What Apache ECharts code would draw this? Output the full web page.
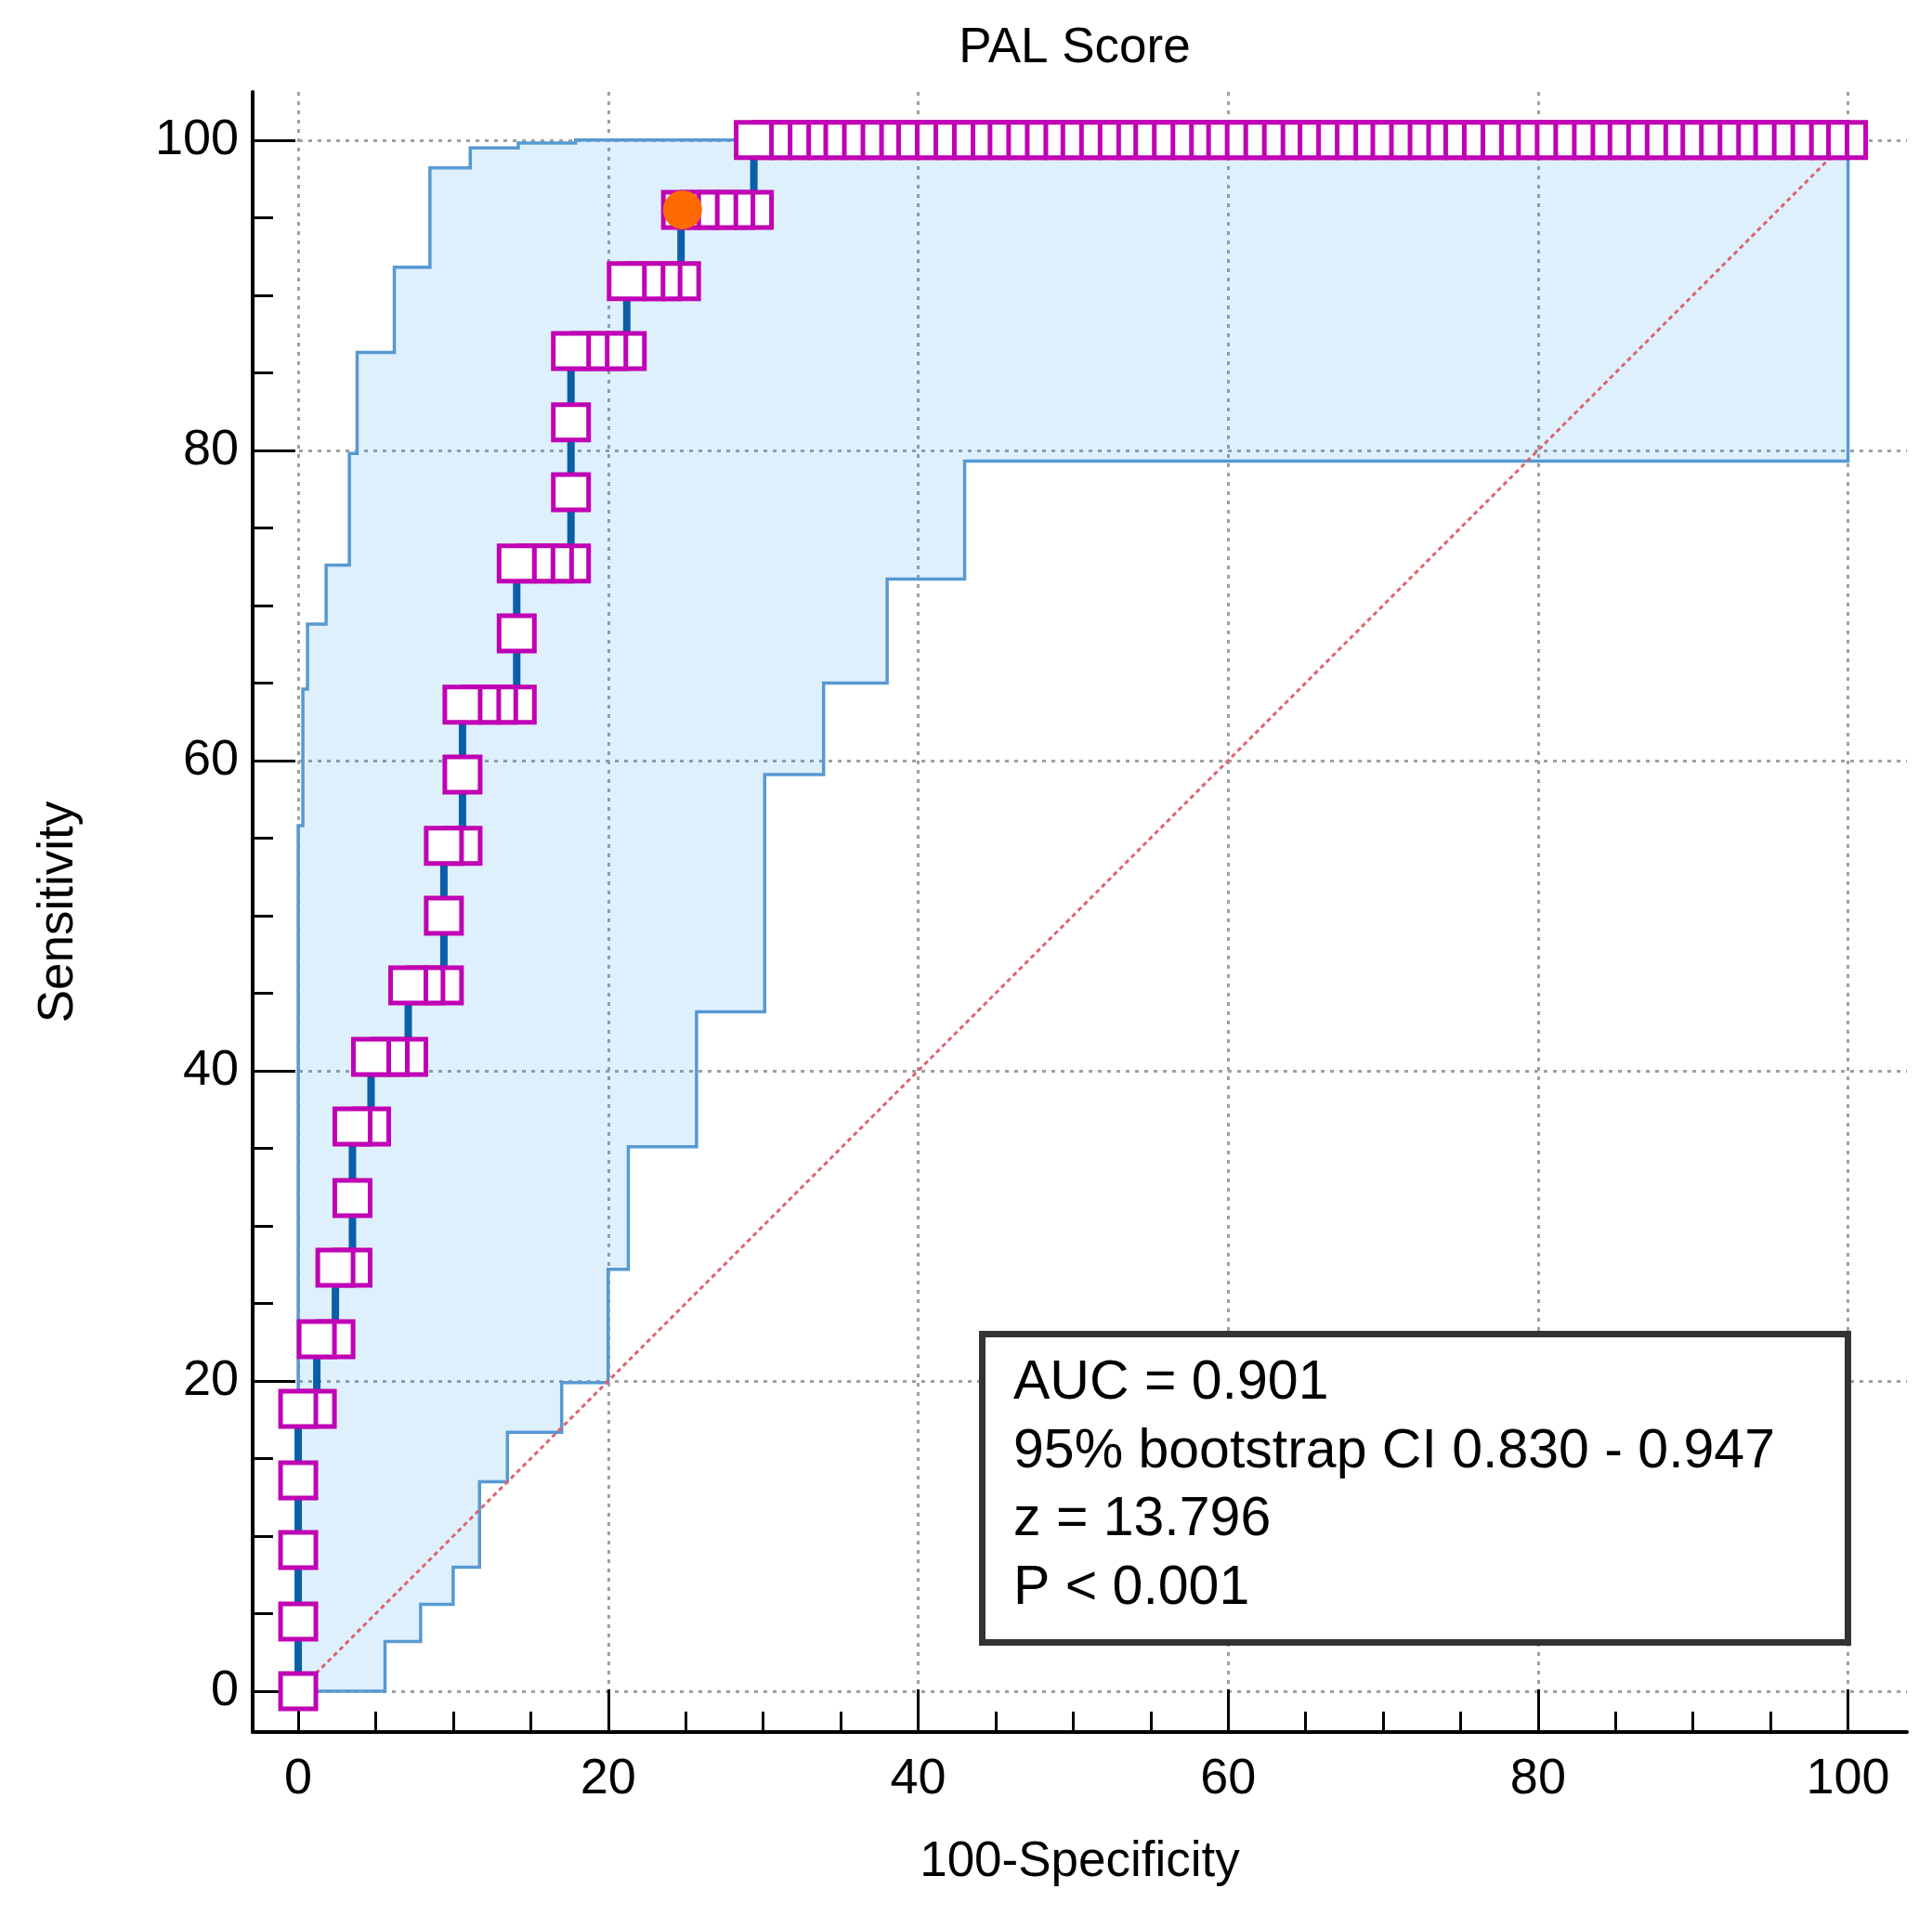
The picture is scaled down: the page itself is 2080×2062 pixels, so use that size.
<!DOCTYPE html>
<html>
<head>
<meta charset="utf-8">
<title>PAL Score - ROC curve</title>
<script src="https://cdn.jsdelivr.net/npm/echarts@6/dist/echarts.min.js"></script>
<style>
  html, body { margin: 0; padding: 0; background: #fff; }
  #chart { width: 2080px; height: 2062px; }
</style>
</head>
<body>
<div id="chart"></div>
<script>
// ROC curve: each sensitivity level with the 100-specificity values found at that level
const sensitivity = [0, 4.5, 9.1, 13.6, 18.2, 22.7, 27.3, 31.8, 36.4, 40.9, 45.5, 50.0,
  54.5, 59.1, 63.6, 68.2, 72.7, 77.3, 81.8, 86.4, 90.9, 95.5, 100];
const fprAtLevel = [
  [0], [0], [0], [0], [0, 1.2], [1.2, 2.4], [2.4, 3.5], [3.5], [3.5, 4.7],
  [4.7, 5.9, 7.1], [7.1, 8.2, 9.4], [9.4], [9.4, 10.6], [10.6],
  [10.6, 11.8, 12.9, 14.1], [14.1], [14.1, 15.3, 16.5, 17.6], [17.6], [17.6],
  [17.6, 18.8, 20.0, 21.2], [21.2, 22.4, 23.5, 24.7], [24.7, 25.9, 27.1, 28.2, 29.4],
  [29.4, 30.6, 31.8, 32.9, 34.1, 35.3, 36.5, 37.6, 38.8, 40.0, 41.2, 42.4, 43.5, 44.7,
   45.9, 47.1, 48.2, 49.4, 50.6, 51.8, 52.9, 54.1, 55.3, 56.5, 57.6, 58.8, 60.0, 61.2,
   62.4, 63.5, 64.7, 65.9, 67.1, 68.2, 69.4, 70.6, 71.8, 72.9, 74.1, 75.3, 76.5, 77.6,
   78.8, 80.0, 81.2, 82.4, 83.5, 84.7, 85.9, 87.1, 88.2, 89.4, 90.6, 91.8, 92.9, 94.1,
   95.3, 96.5, 97.6, 98.8, 100]
];

// optimal criterion (orange dot)
const cutoff = [24.8, 95.5];

// 95% CI band, as steps: at fpr[i] the bound jumps to sens[i]
const ciUpperFpr = [0, 0.3, 0.6, 1.8, 3.3, 3.8, 6.2, 8.5, 11.1, 14.2, 17.9, 100];
const ciUpperSens = [55.8, 64.6, 68.8, 72.6, 79.8, 86.3, 91.8, 98.2, 99.5, 99.8, 100, 100];
const ciLowerFpr = [5.6, 7.9, 10.0, 11.7, 13.5, 17.0, 20.0, 21.3, 25.7, 30.1, 33.9, 38.0, 43.0, 100];
const ciLowerSens = [3.2, 5.6, 8.0, 13.5, 16.7, 19.9, 27.2, 35.1, 43.8, 59.1, 65.0, 71.7, 79.3, 100];

// reference (chance) line end values
const chance = [0, 100];

// ticks
const minorTicks = [0, 5, 10, 15, 20, 25, 30, 35, 40, 45, 50, 55, 60, 65, 70, 75, 80, 85, 90, 95, 100];
const majorTicks = [0, 20, 40, 60, 80, 100];

const statLines = ['AUC = 0.901', '95% bootstrap CI 0.830 - 0.947', 'z = 13.796', 'P < 0.001'];

// ---------------------------------------------------------------
const FONT = '"Liberation Sans", Arial, sans-serif';
const X_MIN = -2.94, X_MAX = 103.8;
const Y_MIN = -2.63, Y_MAX = 103.1;

const rocPoints = [];
sensitivity.forEach((s, i) => {
  fprAtLevel[i].forEach(f => rocPoints.push([f, s]));
});

const expandSteps = (xs, ys) => {
  const pts = [[0, 0]];
  let prev = 0;
  xs.forEach((x, i) => {
    pts.push([x, prev]);
    pts.push([x, ys[i]]);
    prev = ys[i];
  });
  return pts;
};
const upperPath = expandSteps(ciUpperFpr, ciUpperSens);
const lowerPath = expandSteps(ciLowerFpr, ciLowerSens);
const ciPolygon = upperPath.concat(lowerPath.slice().reverse());

const chartDom = document.getElementById('chart');
const myChart = echarts.init(chartDom);

const minorAxis = (min, max, position) => ({
  type: 'value', min, max, position,
  axisLine: { show: true, onZero: false, lineStyle: { color: '#000', width: 4 } },
  axisTick: { show: true, inside: true, length: 22, customValues: minorTicks,
    lineStyle: { color: '#000', width: 3 } },
  axisLabel: { show: false },
  splitLine: { show: false }
});
const majorAxis = (min, max, position, name, nameGap, labelMargin) => ({
  type: 'value', min, max, position,
  name, nameLocation: 'middle', nameGap,
  nameTextStyle: { fontFamily: FONT, fontSize: 53, color: '#000' },
  axisLine: { show: false, onZero: false },
  axisTick: { show: true, inside: true, length: 46, customValues: majorTicks,
    lineStyle: { color: '#000', width: 3 } },
  axisLabel: { show: true, customValues: majorTicks, margin: labelMargin,
    fontFamily: FONT, fontSize: 54, color: '#000' },
  splitLine: { show: true, lineStyle: { color: '#a0a0a0', width: 3, type: [4, 6] } }
});

myChart.setOption({
  animation: false,
  backgroundColor: '#fff',
  grid: { left: 272, top: 99, width: 1781, height: 1766, containLabel: false },
  xAxis: [
    minorAxis(X_MIN, X_MAX, 'bottom'),
    majorAxis(X_MIN, X_MAX, 'bottom', '100-Specificity', 114, 24)
  ],
  yAxis: [
    minorAxis(Y_MIN, Y_MAX, 'left'),
    majorAxis(Y_MIN, Y_MAX, 'left', 'Sensitivity', 182, 15)
  ],
  series: [
    {
      // confidence band
      type: 'custom',
      silent: true,
      z: 2,
      data: [[0, 0]],
      renderItem: (params, api) => ({
        type: 'polygon',
        shape: { points: ciPolygon.map(p => api.coord(p)) },
        style: { fill: 'rgba(9,140,240,0.13)', stroke: '#5799d2', lineWidth: 3.5 }
      })
    },
    {
      type: 'line',
      silent: true,
      z: 3,
      showSymbol: false,
      data: chance.map(v => [v, v]),
      lineStyle: { color: '#dc6470', width: 3, type: [5, 4] }
    },
    {
      type: 'line',
      silent: true,
      z: 4,
      showSymbol: false,
      data: rocPoints,
      lineStyle: { color: '#0a5fa8', width: 8 }
    },
    {
      // drawn from the top-right back, so the lower-left box of each row is on top
      type: 'scatter',
      silent: true,
      z: 5,
      symbol: 'rect',
      symbolSize: 38,
      data: rocPoints.slice().reverse(),
      itemStyle: { color: '#fff', borderColor: '#c000b4', borderWidth: 5, opacity: 1 }
    },
    {
      type: 'scatter',
      silent: true,
      z: 6,
      symbol: 'circle',
      symbolSize: 42,
      data: [cutoff],
      itemStyle: { color: '#ff6a00', opacity: 1 }
    }
  ],
  graphic: [
    {
      type: 'text', z: 100,
      style: { text: 'PAL Score', x: 1157, y: 52, align: 'center', verticalAlign: 'middle',
        fontFamily: FONT, fontSize: 53, fill: '#000' }
    },
    {
      type: 'rect', z: 100,
      shape: { x: 1057.5, y: 1436.5, width: 932, height: 332 },
      style: { fill: '#fff', stroke: '#333', lineWidth: 7 }
    }
  ].concat(statLines.map((t, i) => ({
    type: 'text', z: 101,
    style: { text: t, x: 1091, y: 1490 + i * 73.5, align: 'left', verticalAlign: 'middle',
      fontFamily: FONT, fontSize: 59, fill: '#000' }
  })))
});
</script>
</body>
</html>
